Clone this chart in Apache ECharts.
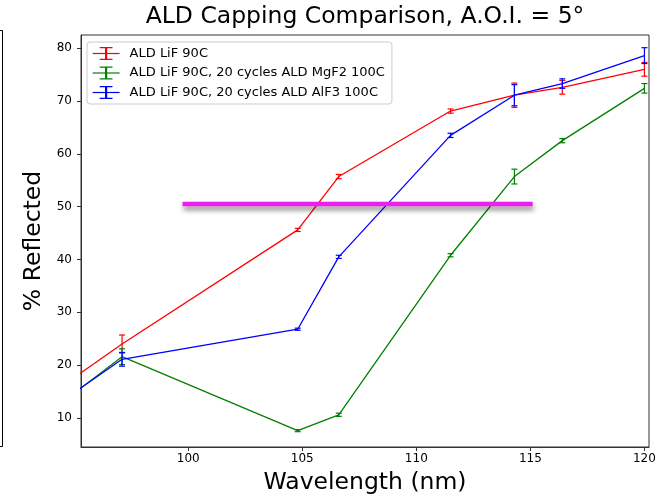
<!DOCTYPE html>
<html>
<head>
<meta charset="utf-8">
<script src="https://cdn.jsdelivr.net/npm/echarts@6/dist/echarts.min.js"></script>
<style>
  html, body { margin: 0; padding: 0; background: #fff; }
  #chart { width: 669px; height: 497px; }
</style>
</head>
<body>
<div id="chart"></div>
<script>
// wavelengths (nm); first point lies left of the visible range
var wavelength = [93.0, 97.1, 104.8, 106.6, 111.5, 114.3, 116.4, 120.0];

var seriesNames = ["ALD LiF 90C", "ALD LiF 90C, 20 cycles ALD MgF2 100C", "ALD LiF 90C, 20 cycles ALD AlF3 100C"];
var seriesColors = ["#ff0000", "#008000", "#0000ff"];

var lifVals = [11.6, 24.0, 45.6, 55.7, 68.1, 71.1, 72.6, 76.0];
var lifErr = [1.0, 1.7, 0.3, 0.4, 0.4, 2.3, 1.3, 1.3];
var mgf2Vals = [8.1, 21.6, 7.6, 10.6, 40.8, 55.7, 62.5, 72.4];
var mgf2Err = [1.0, 1.5, 0.2, 0.3, 0.3, 1.4, 0.4, 0.9];
var alf3Vals = [8.8, 21.1, 26.8, 40.5, 63.5, 71.1, 73.3, 78.6];
var alf3Err = [1.0, 1.3, 0.2, 0.3, 0.4, 2.0, 0.9, 1.5];

// the magenta 50% marker
var markerX = [99.75, 115.1];
var markerY = [50.5, 50.5];

var xTicks = [100, 105, 110, 115, 120];
var yTicks = [10, 20, 30, 40, 50, 60, 70, 80];

var FONT = "DejaVu Sans";

function pairs(xs, ys) {
    var out = [];
    for (var i = 0; i < xs.length; i++) out.push([xs[i], ys[i]]);
    return out;
}
function triples(xs, ys, es) {
    var out = [];
    for (var i = 0; i < xs.length; i++) out.push([xs[i], ys[i], es[i]]);
    return out;
}

function errorBarItem(params, api) {
    var x = api.value(0), y = api.value(1), e = api.value(2);
    var hi = api.coord([x, y + e]);
    var lo = api.coord([x, y - e]);
    var w = 3;
    var st = { stroke: api.visual("color"), lineWidth: 1.2 };
    return {
        type: "group",
        children: [
            { type: "line", shape: { x1: hi[0], y1: hi[1], x2: lo[0], y2: lo[1] }, style: st },
            { type: "line", shape: { x1: hi[0] - w, y1: hi[1], x2: hi[0] + w, y2: hi[1] }, style: st },
            { type: "line", shape: { x1: lo[0] - w, y1: lo[1], x2: lo[0] + w, y2: lo[1] }, style: st }
        ]
    };
}

// I-beam used only as the legend marker (series symbols stay hidden)
var errSymbol = "path://M0,0 H7 V1.2 H4.1 V11.8 H7 V13 H0 V11.8 H2.9 V1.2 H0 Z";

var allVals = [lifVals, mgf2Vals, alf3Vals];
var allErr = [lifErr, mgf2Err, alf3Err];
var series = [];
for (var k = 0; k < 3; k++) {
    series.push({
        name: seriesNames[k], type: "line", showSymbol: false,
        symbol: errSymbol, symbolKeepAspect: true,
        data: pairs(wavelength, allVals[k]),
        color: seriesColors[k],
        lineStyle: { color: seriesColors[k], width: 1.3 },
        itemStyle: { color: seriesColors[k], borderWidth: 0 },
        z: 3 + k, animation: false
    });
    series.push({
        name: seriesNames[k] + " err", type: "custom", renderItem: errorBarItem, clip: true,
        data: triples(wavelength, allVals[k], allErr[k]),
        itemStyle: { color: seriesColors[k] },
        encode: { x: 0, y: 1 },
        z: 3 + k, animation: false
    });
}
series.push({
    name: "marker", type: "line", showSymbol: false, symbol: "none",
    data: pairs(markerX, markerY),
    lineStyle: { color: "#ee1eee", width: 4.5, cap: "butt",
        shadowColor: "rgba(0,0,0,0.45)", shadowBlur: 5, shadowOffsetY: 4, shadowOffsetX: 1 },
    z: 10, animation: false
});

var option = {
    backgroundColor: "#fff",
    animation: false,
    title: {
        text: "ALD Capping Comparison, A.O.I. = 5°",
        left: 365, top: 5, textAlign: "center", padding: 0,
        textStyle: { fontFamily: FONT, fontSize: 23.5, fontWeight: "normal", color: "#000" }
    },
    legend: {
        data: seriesNames,
        orient: "vertical", left: 87, top: 42,
        padding: [5, 7, 5, 5], itemWidth: 27, itemHeight: 16, itemGap: 6.5,
        backgroundColor: "rgba(255,255,255,0.85)", borderColor: "#ccc", borderWidth: 1, borderRadius: 3,
        lineStyle: { width: 1.2 },
        textStyle: { fontFamily: FONT, fontSize: 13, color: "#000", padding: [0, 0, 0, 5], lineHeight: 13 },
        selectedMode: false
    },
    grid: {
        left: 81, right: 20, top: 35, bottom: 50, outerBoundsMode: "none", containLabel: false,
        show: true, borderColor: "#333", borderWidth: 1, backgroundColor: "#fff"
    },
    xAxis: {
        type: "value", min: 95.3, max: 120.2,
        name: "Wavelength (nm)", nameLocation: "middle", nameGap: 24,
        nameTextStyle: { fontFamily: FONT, fontSize: 23.5, color: "#000" },
        axisLine: { show: true, lineStyle: { color: "#333", width: 1 } },
        axisTick: { show: true, length: 4, lineStyle: { color: "#333" }, customValues: xTicks },
        axisLabel: { fontFamily: FONT, fontSize: 12, color: "#000", margin: 6, customValues: xTicks },
        splitLine: { show: false }
    },
    yAxis: {
        type: "value", min: 4.5, max: 82.5,
        name: "% Reflected", nameLocation: "middle", nameGap: 33,
        nameTextStyle: { fontFamily: FONT, fontSize: 23.5, color: "#000" },
        axisLine: { show: true, lineStyle: { color: "#333", width: 1 } },
        axisTick: { show: true, length: 4, lineStyle: { color: "#333" }, customValues: yTicks },
        axisLabel: { fontFamily: FONT, fontSize: 12, color: "#000", margin: 9, customValues: yTicks },
        splitLine: { show: false }
    },
    graphic: [{
        type: "polyline", silent: true,
        shape: { points: [[-1, 30.5], [2.5, 30.5], [2.5, 446.5], [-1, 446.5]] },
        style: { stroke: "#000", lineWidth: 1, fill: null }
    }],
    series: series
};

var chart = echarts.init(document.getElementById("chart"));
chart.setOption(option);
</script>
</body>
</html>
